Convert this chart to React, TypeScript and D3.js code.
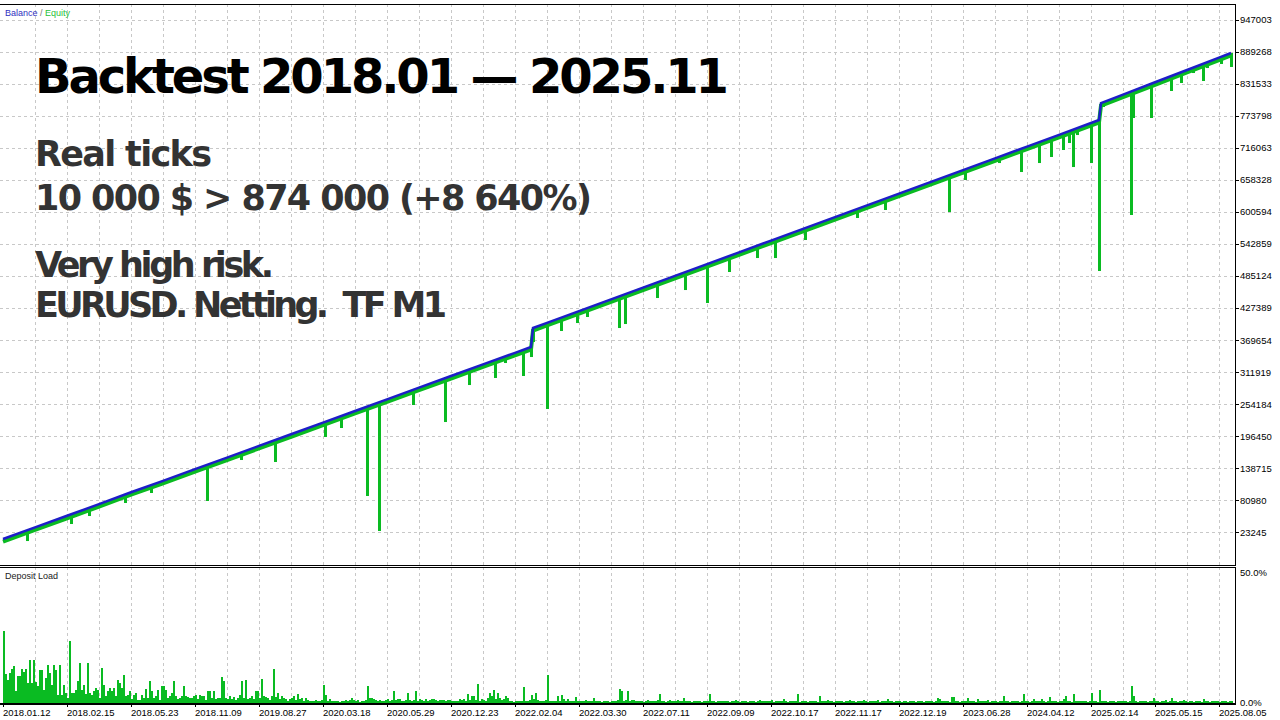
import React, { useEffect, useRef } from 'react';
import * as d3 from 'd3';

const W = 1280;
const H = 720;

// right axis (balance / equity)
const yTickValues = [
  947003, 889268, 831533, 773798, 716063, 658328, 600594, 542859, 485124,
  427389, 369654, 311919, 254184, 196450, 138715, 80980, 23245,
];

// bottom axis, one label every 32 trades
const xTickLabels = [
  '2018.01.12', '2018.02.15', '2018.05.23', '2018.11.09', '2019.08.27',
  '2020.03.18', '2020.05.29', '2020.12.23', '2022.02.04', '2022.03.30',
  '2022.07.11', '2022.09.09', '2022.10.17', '2022.11.17', '2022.12.19',
  '2023.06.28', '2024.04.12', '2025.02.14', '2025.05.15', '2025.08.05',
];

// [trade #, balance]
const balancePoints: [number, number][] = [
  [0, 11100], [16, 32000], [32, 53000], [48, 74000], [64, 95500],
  [80, 116000], [96, 137200], [112, 158000], [128, 179000], [144, 200000],
  [160, 221000], [176, 242000], [192, 263000], [208, 284000], [224, 305000],
  [240, 326000], [256, 346800], [264, 357400],
  [265, 391600], [272, 400800], [288, 422000], [304, 443200], [320, 464400],
  [336, 485600], [352, 506800], [368, 528000], [384, 549200], [400, 570400],
  [416, 591600], [432, 612800], [448, 634000], [464, 655200], [480, 676400],
  [496, 697600], [512, 718800], [528, 740000], [548, 766700],
  [549, 797300], [560, 812500], [576, 834700], [592, 856900], [608, 879100],
  [614, 887500],
];

// [trade #, equity low]
const equityDips: [number, number][] = [
  [12, 7500], [34, 38200], [43, 52600], [61, 76100], [74, 94100],
  [102, 79700], [119, 153600], [136, 150000], [161, 195100], [169, 211300],
  [182, 88700], [188, 25600], [205, 252800], [221, 222100], [233, 288800],
  [246, 301500], [251, 328500], [260, 305100], [264, 339300], [265, 366400],
  [272, 245600], [279, 386200], [287, 400600], [292, 411500], [308, 391600],
  [311, 398800], [327, 445700], [341, 460100], [352, 436700], [363, 492600],
  [377, 517800], [386, 517800], [401, 550300], [409, 575500], [427, 590000],
  [441, 604400], [473, 600800], [481, 658500], [498, 689100], [509, 672900],
  [518, 689100], [524, 700000], [530, 712600], [533, 725200], [535, 681900],
  [537, 739600], [544, 689100], [548, 494400], [550, 790100], [564, 595400],
  [565, 770300], [574, 770300], [584, 819000], [589, 833400], [595, 851400],
  [600, 837000], [602, 860400], [609, 867700], [614, 862300],
];

// deposit load, % per trade
const depositLoad = [
  27.7, 11, 9, 11.5, 13, 14.3, 4.5, 10.5, 10.5, 13, 12, 13, 7.6, 16.6, 7.7, 16.6, 8, 6.4, 12.7, 12.5,
  5, 9.5, 14.7, 11.5, 7, 14.7, 12.5, 3, 14.7, 3.2, 7, 4, 1.9, 23.6, 4, 3.8, 5, 8.3, 15.3, 5,
  7, 3.5, 15.3, 3.8, 3.2, 4.5, 5.7, 5, 2, 13.4, 7, 2.5, 4.5, 5.7, 4.5, 5.7, 2.5, 8.9, 7.7, 5.7,
  10.8, 2.5, 3.2, 4.5, 1.5, 3.2, 3.8, 1.3, 1.3, 3, 2, 5.5, 2, 8.3, 4.5, 2, 2.5, 5, 1.3, 6.4,
  6.6, 5, 1.9, 2.5, 3.8, 8.3, 2.6, 1.5, 1.9, 2.5, 6.6, 2.6, 2.4, 2, 1.9, 2.8, 3, 1.5, 3, 2.8,
  2.6, 1.2, 4.7, 4.7, 2, 4.7, 1.5, 1.9, 2, 9.8, 8.5, 1.9, 1.5, 2.6, 1.5, 2.3, 1.2, 1.9, 3.2, 8.3,
  2, 8.7, 1.5, 1.9, 2.8, 1.5, 4.7, 4.7, 1.9, 9.2, 2.5, 2.3, 1.9, 1.2, 2.5, 13, 2.2, 3.8, 1.5, 2.6,
  1.9, 1.5, 0.9, 1.5, 1.9, 2.6, 1.3, 3.6, 1.5, 1.9, 0.8, 1.9, 1.2, 0.9, 0.6, 0.9, 1.3, 0.9, 0.6, 1.2,
  7, 3.2, 0.9, 1.5, 0.9, 0.6, 0.6, 0.9, 0.5, 0.6, 0.9, 1.3, 0.6, 1.3, 1.9, 1.3, 0.6, 1, 0.5, 0.9,
  0.6, 1.3, 6.6, 1.9, 2, 1.5, 1.3, 0.9, 1.2, 0.8, 0.6, 1.2, 1.5, 0.9, 1.3, 4.7, 1.2, 1.5, 1.5, 0.9,
  0.8, 1.2, 4, 1.3, 0.9, 1.2, 4.5, 0.9, 1.5, 1.2, 0.6, 1.5, 0.9, 1.2, 1.5, 1.5, 1.2, 0.9, 1.2, 1.3,
  1.3, 0.9, 1.2, 1.2, 0.8, 0.9, 0.6, 0.9, 1.5, 1.2, 1.5, 0.6, 3.4, 1.3, 2.5, 2.8, 1.2, 7.3, 0.9, 1.5,
  1.2, 0.6, 1.9, 3.8, 2.5, 5.1, 1.5, 4, 2, 1.3, 1.5, 2.8, 1.9, 0.9, 0.6, 0.5, 0.9, 0.6, 0.8, 0.9,
  6, 0.9, 0.6, 1.2, 3.2, 1.5, 3.8, 1.3, 0.9, 0.6, 0.8, 1.2, 10.6, 0.6, 0.9, 0.6, 0.8, 2.6, 0.9, 3.2,
  1.5, 0.9, 1.5, 0.8, 0.6, 0.8, 2.3, 0.9, 0.6, 0.8, 0.9, 1.2, 0.6, 0.8, 0.9, 1.9, 0.8, 0.6, 0.6, 0.5,
  0.6, 0.8, 0.9, 0.5, 0.6, 0.8, 0.6, 1.2, 5.4, 4.7, 0.9, 1.3, 4.5, 0.9, 1.3, 1.2, 0.8, 0.6, 0.9, 0.6,
  0.5, 0.9, 1.2, 0.6, 0.8, 0.6, 0.9, 1.2, 3.6, 0.6, 0.9, 0.5, 0.6, 1.3, 0.8, 0.6, 0.9, 1.3, 0.6, 0.8,
  2, 0.6, 0.8, 0.9, 0.5, 0.6, 0.9, 0.8, 0.6, 0.5, 0.8, 0.6, 0.9, 3.6, 0.6, 0.8, 0.5, 0.6, 0.9, 0.6,
  0.8, 0.6, 0.9, 0.5, 0.6, 0.8, 1.2, 0.6, 0.5, 0.9, 0.6, 0.8, 0.5, 0.6, 0.9, 0.6, 0.5, 0.8, 1.2, 0.6,
  0.6, 0.8, 0.9, 0.6, 1.3, 0.5, 0.8, 0.6, 0.9, 0.6, 1.5, 0.8, 0.5, 0.6, 0.9, 0.6, 0.8, 3.6, 0.5, 0.6,
  0.6, 0.8, 0.5, 0.9, 0.6, 0.8, 0.6, 0.5, 2.6, 0.9, 0.6, 0.8, 1.3, 0.6, 0.9, 0.5, 0.6, 0.8, 0.6, 0.9,
  0.5, 0.6, 0.9, 1.3, 0.6, 0.8, 0.5, 0.6, 0.9, 0.8, 1, 0.6, 0.5, 0.8, 0.6, 0.9, 0.6, 1, 0.5, 0.6,
  0.8, 0.6, 1.5, 0.9, 0.6, 0.5, 0.8, 0.6, 0.9, 0.5, 0.6, 0.8, 0.5, 0.6, 0.9, 0.8, 0.5, 0.6, 0.8, 0.6,
  0.5, 0.6, 0.8, 0.9, 0.6, 0.5, 0.8, 1.9, 1.5, 0.8, 0.6, 0.9, 0.6, 0.5, 2.3, 2.3, 0.6, 0.8, 0.5, 0.6,
  0.6, 0.8, 1.9, 0.9, 0.6, 0.8, 0.5, 1.5, 0.6, 0.8, 0.9, 0.6, 1.2, 0.5, 0.8, 0.6, 0.9, 0.5, 0.6, 0.8,
  2.6, 0.6, 0.8, 0.5, 0.9, 0.6, 0.8, 0.6, 0.5, 0.9, 3.4, 0.6, 0.8, 0.5, 0.6, 1.5, 0.8, 0.6, 0.9, 1.5,
  0.6, 0.5, 0.8, 2.3, 0.6, 0.8, 0.6, 0.5, 0.9, 0.6, 1.5, 2.6, 0.6, 0.8, 0.5, 3.4, 0.6, 0.9, 0.6, 0.8,
  0.6, 0.8, 0.5, 0.6, 3.8, 0.6, 0.9, 0.5, 4.9, 0.6, 0.6, 0.8, 0.5, 0.6, 0.9, 0.6, 0.5, 0.8, 0.6, 0.9,
  0.6, 0.8, 0.5, 0.9, 6.4, 2.6, 0.6, 0.5, 0.8, 0.6, 0.9, 0.6, 0.5, 0.8, 0.6, 1.9, 0.6, 0.8, 0.5, 0.6,
  0.6, 1.3, 0.5, 0.6, 1.9, 0.8, 0.6, 0.5, 0.6, 0.9, 1, 0.6, 0.5, 0.8, 0.6, 0.5, 0.9, 0.6, 0.8, 0.5,
  1.5, 0.6, 0.8, 0.5, 0.6, 0.9, 0.6, 0.8, 0.5, 0.6, 0.8, 0.6, 0.5, 0.8, 0.6,
];

const titleText = 'Backtest 2018.01 \u2014 2025.11';
const noteLines = [
  'Real ticks',
  '10 000 $ > 874 000 (+8 640%)',
  'Very high risk.',
  'EURUSD. Netting.  TF M1',
];

const axisFont = "'Liberation Sans', Arial, sans-serif";
const bigFont = "'DejaVu Sans', sans-serif";

export default function App() {
  const svgRef = useRef<SVGSVGElement>(null);

  useEffect(() => {
    const svg = d3.select(svgRef.current);
    svg.selectAll('*').remove();

    const right = 1235;
    const mainTop = 4;
    const mainBottom = 565;
    const loadTop = 567;
    const loadBottom = 703;

    const x = d3.scaleLinear().domain([0, 614]).range([3, 1231]);
    const y = d3.scaleLinear().domain([23245, 947003]).range([532.3, 20]);
    const yLoad = d3.scaleLinear().domain([0, 50]).range([loadBottom, 572.7]);
    const balanceAt = d3
      .scaleLinear()
      .domain(balancePoints.map((d) => d[0]))
      .range(balancePoints.map((d) => d[1]));

    svg.append('rect').attr('width', W).attr('height', H).attr('fill', '#fff');

    // grid
    const grid = svg
      .append('g')
      .attr('stroke', '#c8c8c8')
      .attr('stroke-dasharray', '3,3')
      .attr('shape-rendering', 'crispEdges');
    const gridTrades = d3.range(16, 615, 16);
    grid
      .selectAll('line.vm')
      .data(gridTrades)
      .join('line')
      .attr('class', 'vm')
      .attr('x1', (d) => Math.round(x(d)) + 0.5)
      .attr('x2', (d) => Math.round(x(d)) + 0.5)
      .attr('y1', mainTop)
      .attr('y2', mainBottom);
    grid
      .selectAll('line.vl')
      .data(gridTrades)
      .join('line')
      .attr('class', 'vl')
      .attr('x1', (d) => Math.round(x(d)) + 0.5)
      .attr('x2', (d) => Math.round(x(d)) + 0.5)
      .attr('y1', loadTop)
      .attr('y2', loadBottom);
    grid
      .selectAll('line.h')
      .data(yTickValues)
      .join('line')
      .attr('class', 'h')
      .attr('x1', 0)
      .attr('x2', right)
      .attr('y1', (d) => Math.round(y(d)) + 0.5)
      .attr('y2', (d) => Math.round(y(d)) + 0.5);

    // big captions
    svg
      .append('text')
      .attr('x', 35)
      .attr('y', 93)
      .attr('font-family', bigFont)
      .attr('font-weight', 700)
      .attr('font-size', 48)
      .attr('fill', '#000')
      .attr('textLength', 694)
      .attr('lengthAdjust', 'spacing')
      .text(titleText);
    const noteY = [166, 210, 277, 317];
    const noteW = [177, 557, 239, 412];
    svg
      .append('g')
      .selectAll('text')
      .data(noteLines)
      .join('text')
      .attr('x', 35)
      .attr('y', (d, i) => noteY[i])
      .attr('font-family', bigFont)
      .attr('font-weight', 700)
      .attr('font-size', 35)
      .attr('fill', '#333')
      .attr('textLength', (d, i) => noteW[i])
      .attr('lengthAdjust', 'spacing')
      .style('white-space', 'pre')
      .text((d) => d);

    // equity
    const equityColor = '#0abb22';
    const line = d3
      .line<[number, number]>()
      .x((d) => x(d[0]))
      .y((d) => y(d[1]));
    svg
      .append('path')
      .datum(balancePoints)
      .attr('fill', 'none')
      .attr('stroke', equityColor)
      .attr('stroke-width', 4)
      .attr('transform', 'translate(0,2.5)')
      .attr('d', line);
    svg
      .append('g')
      .attr('fill', equityColor)
      .selectAll('rect')
      .data(equityDips)
      .join('rect')
      .attr('x', (d) => x(d[0]) - 1)
      .attr('width', 3)
      .attr('y', (d) => y(balanceAt(d[0])))
      .attr('height', (d) => y(d[1]) - y(balanceAt(d[0])));

    // balance
    svg
      .append('path')
      .datum(balancePoints)
      .attr('fill', 'none')
      .attr('stroke', '#1e1ec8')
      .attr('stroke-width', 2.5)
      .attr('d', line);

    // deposit load
    svg
      .append('g')
      .attr('fill', equityColor)
      .attr('shape-rendering', 'crispEdges')
      .selectAll('rect')
      .data(depositLoad)
      .join('rect')
      .attr('x', (d, i) => x(i))
      .attr('width', 2)
      .attr('y', (d) => yLoad(d))
      .attr('height', (d) => loadBottom - yLoad(d));

    // frames
    const frame = svg
      .append('g')
      .attr('stroke', '#000')
      .attr('shape-rendering', 'crispEdges');
    frame.append('line').attr('x1', 0).attr('x2', right + 1).attr('y1', mainTop + 0.5).attr('y2', mainTop + 0.5);
    frame.append('line').attr('x1', right + 0.5).attr('x2', right + 0.5).attr('y1', mainTop).attr('y2', mainBottom + 1);
    frame.append('line').attr('x1', 0).attr('x2', right + 1).attr('y1', mainBottom + 0.5).attr('y2', mainBottom + 0.5);
    frame.append('line').attr('x1', 0).attr('x2', right + 1).attr('y1', loadTop + 0.5).attr('y2', loadTop + 0.5);
    frame.append('line').attr('x1', right + 0.5).attr('x2', right + 0.5).attr('y1', loadTop).attr('y2', loadBottom + 1);
    frame
      .append('line')
      .attr('x1', 0)
      .attr('x2', right + 1)
      .attr('y1', loadBottom + 1)
      .attr('y2', loadBottom + 1)
      .attr('stroke-width', 2);

    // right axis
    const axisR = svg.append('g').attr('font-family', axisFont).attr('font-size', 9.5).attr('fill', '#000');
    axisR
      .selectAll('text')
      .data(yTickValues)
      .join('text')
      .attr('x', 1240)
      .attr('y', (d) => y(d))
      .attr('dy', '0.35em')
      .text((d) => String(d));
    frame
      .selectAll('line.rt')
      .data(yTickValues)
      .join('line')
      .attr('class', 'rt')
      .attr('x1', right)
      .attr('x2', right + 4)
      .attr('y1', (d) => Math.round(y(d)) + 0.5)
      .attr('y2', (d) => Math.round(y(d)) + 0.5);
    axisR.append('text').attr('x', 1240).attr('y', yLoad(50)).attr('dy', '0.35em').text('50.0%');
    axisR.append('text').attr('x', 1240).attr('y', yLoad(0)).attr('dy', '0.35em').text('0.0%');

    // bottom axis
    const axisB = svg.append('g').attr('font-family', axisFont).attr('font-size', 9.5).attr('fill', '#000');
    axisB
      .selectAll('text')
      .data(xTickLabels)
      .join('text')
      .attr('x', (d, i) => x(i * 32))
      .attr('y', 715.5)
      .text((d) => d);
    frame
      .selectAll('line.bt')
      .data(xTickLabels)
      .join('line')
      .attr('class', 'bt')
      .attr('x1', (d, i) => Math.round(x(i * 32)) + 0.5)
      .attr('x2', (d, i) => Math.round(x(i * 32)) + 0.5)
      .attr('y1', loadBottom)
      .attr('y2', loadBottom + 4);

    // panel captions
    const legend = svg
      .append('text')
      .attr('x', 5)
      .attr('y', 16)
      .attr('font-family', axisFont)
      .attr('font-size', 9);
    legend.append('tspan').attr('fill', '#2f2fc0').text('Balance');
    legend.append('tspan').attr('fill', '#777').text(' / ');
    legend.append('tspan').attr('fill', '#1fbf3a').text('Equity');
    svg
      .append('text')
      .attr('x', 5)
      .attr('y', 579)
      .attr('font-family', axisFont)
      .attr('font-size', 9)
      .attr('fill', '#222')
      .text('Deposit Load');
  }, []);

  return (
    <svg
      ref={svgRef}
      width={W}
      height={H}
      style={{ position: 'absolute', left: 0, top: 0, display: 'block' }}
    />
  );
}
